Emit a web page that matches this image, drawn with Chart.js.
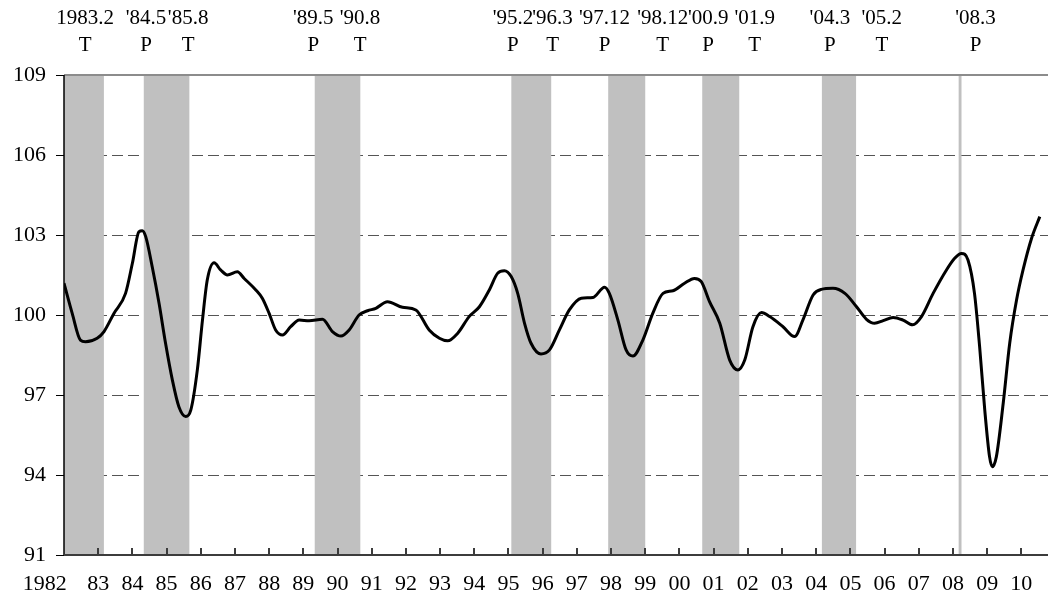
<!DOCTYPE html>
<html>
<head>
<meta charset="utf-8">
<script src="https://cdn.jsdelivr.net/npm/chart.js@4.4.1/dist/chart.umd.min.js"></script>
<style>
  html, body { margin: 0; padding: 0; background: #fff; }
</style>
</head>
<body>
<canvas id="ciChart" width="1048" height="604"></canvas>
<script>
// index series (decimal year, value)
var lineYears = [
  1982.00, 1982.24, 1982.48, 1982.63, 1982.97, 1983.17, 1983.46, 1983.80,
  1984.00, 1984.19, 1984.29, 1984.39, 1984.58, 1984.78, 1984.97, 1985.17,
  1985.36, 1985.56, 1985.71, 1985.90, 1986.05, 1986.19, 1986.39, 1986.58,
  1986.78, 1987.07, 1987.27, 1987.61, 1987.80, 1988.00, 1988.19, 1988.39,
  1988.63, 1988.88, 1989.17, 1989.56, 1989.85, 1990.10, 1990.34, 1990.63,
  1990.88, 1991.12, 1991.46, 1991.90, 1992.29, 1992.68, 1992.98, 1993.22,
  1993.51, 1993.85, 1994.15, 1994.44, 1994.68, 1994.88, 1995.08, 1995.27,
  1995.47, 1995.66, 1995.95, 1996.20, 1996.49, 1996.78, 1997.13, 1997.47,
  1997.81, 1997.95, 1998.20, 1998.44, 1998.64, 1998.93, 1999.22, 1999.52,
  1999.81, 2000.15, 2000.44, 2000.64, 2000.88, 2001.18, 2001.47, 2001.71,
  2001.91, 2002.15, 2002.40, 2002.64, 2003.03, 2003.37, 2003.61, 2003.91,
  2004.15, 2004.49, 2004.84, 2005.18, 2005.47, 2005.71, 2005.96, 2006.25,
  2006.54, 2006.82, 2007.08, 2007.42, 2007.81, 2008.05, 2008.25, 2008.44,
  2008.63, 2008.78, 2008.93, 2009.07, 2009.15, 2009.27, 2009.47, 2009.66,
  2009.86, 2010.05, 2010.30, 2010.54
];
var lineValues = [
  101.19, 100.06, 99.06, 99.00, 99.13, 99.38, 100.06, 100.81,
  101.94, 103.12, 103.16, 102.94, 101.81, 100.44, 98.94, 97.56,
  96.56, 96.19, 96.44, 97.94, 99.81, 101.31, 101.96, 101.69,
  101.50, 101.62, 101.37, 100.94, 100.63, 100.06, 99.44, 99.25,
  99.56, 99.81, 99.78, 99.84, 99.38, 99.21, 99.44, 100.00,
  100.16, 100.25, 100.50, 100.29, 100.19, 99.44, 99.13, 99.03,
  99.31, 99.94, 100.31, 100.94, 101.56, 101.66, 101.44, 100.81,
  99.69, 98.94, 98.54, 98.69, 99.44, 100.19, 100.63, 100.66,
  101.04, 100.81, 99.81, 98.69, 98.46, 99.06, 100.06, 100.81,
  100.91, 101.19, 101.37, 101.25, 100.50, 99.69, 98.31, 97.94,
  98.31, 99.56, 100.09, 99.94, 99.56, 99.19, 99.81, 100.75,
  100.96, 101.00, 100.81, 100.31, 99.84, 99.69, 99.79, 99.91,
  99.81, 99.63, 99.94, 100.81, 101.69, 102.13, 102.31, 102.06,
  100.81, 98.81, 96.44, 94.69, 94.31, 94.69, 96.69, 98.94,
  100.56, 101.69, 102.88, 103.69
];

// turning points: P = peak, T = trough
var tpYear  = [1983, 1984, 1985, 1989, 1990, 1995, 1996, 1997, 1998, 2000, 2001, 2004, 2005, 2008];
var tpMonth = [2, 5, 8, 5, 8, 2, 3, 12, 12, 9, 9, 3, 2, 3];
var tpType  = ['T', 'P', 'T', 'P', 'T', 'P', 'T', 'P', 'T', 'P', 'T', 'P', 'T', 'P'];
var tpLabel = ['1983.2', "'84.5", "'85.8", "'89.5", "'90.8", "'95.2", "'96.3",
               "'97.12", "'98.12", "'00.9", "'01.9", "'04.3", "'05.2", "'08.3"];
// where each label sits above the plot (decimal year)
var tpLabelAt = [1982.62, 1984.40, 1985.63, 1989.29, 1990.66, 1995.13, 1996.29,
                 1997.81, 1999.51, 2000.84, 2002.20, 2004.40, 2005.92, 2008.66];

var yearTicks = [];
for (var yr = 1982; yr <= 2010; yr++) yearTicks.push(yr);
var valueTicks = [91, 94, 97, 100, 103, 106, 109];

var X_MIN = 1982, X_MAX = 2010.78;
var FONT = '"Liberation Serif", "Times New Roman", serif';

// shaded downturns: from the start of the peak month to the end of the trough month
var bands = [];
var open = X_MIN; // series starts inside a downturn
for (var i = 0; i < tpYear.length; i++) {
    if (tpType[i] === 'P') {
        open = tpYear[i] + (tpMonth[i] - 1) / 12;
    } else {
        bands.push([open, tpYear[i] + tpMonth[i] / 12]);
        open = null;
    }
}
if (open !== null) bands.push([open, open + 1 / 12]);

var recessionPlugin = {
    id: 'recessions',
    beforeDatasetsDraw: function(chart) {
        var ctx = chart.ctx, area = chart.chartArea, xs = chart.scales.x;
        ctx.save();
        ctx.fillStyle = '#c0c0c0';
        bands.forEach(function(b) {
            var x0 = xs.getPixelForValue(b[0]), x1 = xs.getPixelForValue(b[1]);
            ctx.fillRect(x0, area.top, x1 - x0, area.bottom - area.top);
        });
        // top frame
        ctx.strokeStyle = '#8c8c8c';
        ctx.lineWidth = 2;
        ctx.beginPath();
        ctx.moveTo(area.left, area.top);
        ctx.lineTo(area.right, area.top);
        ctx.stroke();
        // value axis
        ctx.strokeStyle = '#000';
        ctx.lineWidth = 1.5;
        ctx.beginPath();
        ctx.moveTo(area.left, area.top);
        ctx.lineTo(area.left, area.bottom);
        ctx.stroke();
        // year axis with inward ticks
        ctx.strokeStyle = '#3c3c3c';
        ctx.lineWidth = 2;
        ctx.beginPath();
        ctx.moveTo(area.left, area.bottom);
        ctx.lineTo(area.right, area.bottom);
        yearTicks.forEach(function(v) {
            if (v === X_MIN) return;
            var x = Math.round(xs.getPixelForValue(v));
            ctx.moveTo(x, area.bottom);
            ctx.lineTo(x, area.bottom - 7);
        });
        ctx.stroke();
        ctx.restore();
    },
    afterDraw: function(chart) {
        var ctx = chart.ctx, xs = chart.scales.x;
        ctx.save();
        ctx.fillStyle = '#000';
        ctx.font = '21px ' + FONT;
        ctx.textAlign = 'center';
        ctx.textBaseline = 'alphabetic';
        for (var i = 0; i < tpLabel.length; i++) {
            var x = xs.getPixelForValue(tpLabelAt[i]);
            ctx.fillText(tpLabel[i], x, 24);
            ctx.fillText(tpType[i], x, 51);
        }
        ctx.restore();
    }
};

var ctx = document.getElementById('ciChart').getContext('2d');
var ciChart = new Chart(ctx, {
    type: 'line',
    data: {
        datasets: [{
            label: 'index',
            data: lineYears.map(function(x, i) { return { x: x, y: lineValues[i] }; }),
            borderColor: '#000',
            borderWidth: 3,
            pointRadius: 0,
            cubicInterpolationMode: 'monotone',
            fill: false
        }]
    },
    options: {
        responsive: false,
        animation: false,
        devicePixelRatio: 1,
        layout: { padding: { top: 75, right: 0, bottom: 0, left: 0 } },
        plugins: {
            legend: { display: false },
            tooltip: { enabled: false }
        },
        scales: {
            x: {
                type: 'linear',
                min: X_MIN,
                max: X_MAX,
                afterBuildTicks: function(scale) {
                    scale.ticks = yearTicks.map(function(v) { return { value: v }; });
                },
                afterFit: function(scale) {
                    scale.height = 49;
                    scale.paddingLeft = 0;
                    scale.paddingRight = 0;
                },
                grid: { display: false, drawTicks: false },
                border: { display: false },
                ticks: {
                    autoSkip: false,
                    maxRotation: 0,
                    padding: 16,
                    color: '#000',
                    font: { family: FONT, size: 22 },
                    callback: function(v) {
                        // first label sits left of its tick in the original
                        if (v === 1982) return '1982       ';
                        return String(v % 100).padStart(2, '0');
                    }
                }
            },
            y: {
                min: 91,
                max: 109,
                afterBuildTicks: function(scale) {
                    scale.ticks = valueTicks.map(function(v) { return { value: v }; });
                },
                afterFit: function(scale) {
                    scale.width = 64;
                },
                grid: {
                    color: function(c) {
                        var v = c.tick ? c.tick.value : null;
                        return (v === 91 || v === 109) ? 'rgba(0,0,0,0)' : '#555';
                    },
                    lineWidth: 1,
                    tickColor: '#000',
                    tickBorderDash: [1, 0],
                    tickLength: 8,
                    tickWidth: 1
                },
                border: { display: false, dash: [11, 5] },
                ticks: {
                    padding: 10,
                    color: '#000',
                    font: { family: FONT, size: 22 }
                }
            }
        }
    },
    plugins: [recessionPlugin]
});
</script>
</body>
</html>
